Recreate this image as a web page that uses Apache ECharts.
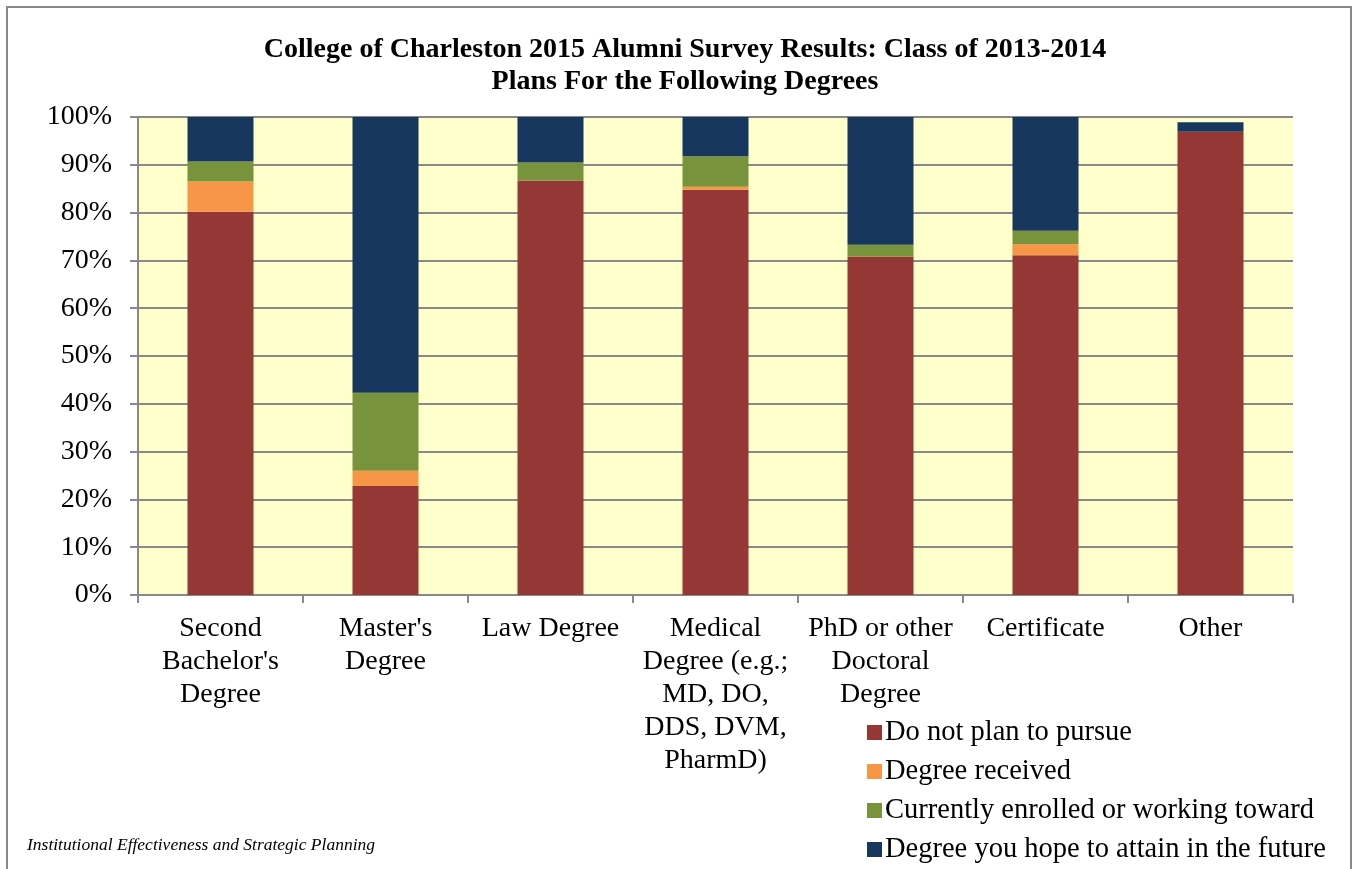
<!DOCTYPE html>
<html>
<head>
<meta charset="utf-8">
<script src="https://cdn.jsdelivr.net/npm/echarts@6/dist/echarts.min.js"></script>
<style>
  html, body { margin: 0; padding: 0; background: #fff; }
  #chart { width: 1353px; height: 869px; }
</style>
</head>
<body>
<div id="chart"></div>
<script>
const categories = [
  'Second\nBachelor\'s\nDegree',
  'Master\'s\nDegree',
  'Law Degree',
  'Medical\nDegree (e.g.;\nMD, DO,\nDDS, DVM,\nPharmD)',
  'PhD or other\nDoctoral\nDegree',
  'Certificate',
  'Other'
]
const doNotPlan = [80.2, 22.8, 86.7, 84.8, 70.8, 71.1, 96.9]
const degreeReceived = [6.3, 3.2, 0, 0.6, 0, 2.3, 0]
const currentlyEnrolled = [4.2, 16.3, 3.8, 6.4, 2.5, 2.8, 0]
const hopeFuture = [9.3, 57.7, 9.5, 8.2, 26.7, 23.8, 2.0]

const seriesInfo = [
  { name: 'Do not plan to pursue', color: '#953735', data: doNotPlan },
  { name: 'Degree received', color: '#F79646', data: degreeReceived },
  { name: 'Currently enrolled or working toward', color: '#77933C', data: currentlyEnrolled },
  { name: 'Degree you hope to attain in the future', color: '#17375E', data: hopeFuture }
]

const font = '"Liberation Serif", "DejaVu Serif", serif'

const chart = echarts.init(document.getElementById('chart'), null, { renderer: 'canvas' })
chart.setOption({
  animation: false,
  textStyle: { fontFamily: font },
  graphic: [
    {
      type: 'rect',
      shape: { x: 7, y: 7, width: 1344, height: 880 },
      style: { fill: 'none', stroke: '#898989', lineWidth: 2 }
    },
    {
      type: 'text',
      left: 27,
      top: 836,
      style: {
        text: 'Institutional Effectiveness and Strategic Planning',
        font: 'italic 17.5px ' + font,
        fill: '#000'
      }
    }
  ],
  title: {
    text: 'College of Charleston 2015 Alumni Survey Results: Class of 2013-2014\nPlans For the Following Degrees',
    left: 680,
    textAlign: 'center',
    top: 29,
    textStyle: {
      fontFamily: font,
      fontWeight: 'bold',
      fontSize: 28,
      lineHeight: 32,
      color: '#000'
    }
  },
  legend: {
    orient: 'vertical',
    left: 862,
    top: 713,
    itemWidth: 15,
    itemHeight: 15,
    itemGap: 10,
    icon: 'rect',
    selectedMode: false,
    textStyle: { fontFamily: font, fontSize: 28.5, lineHeight: 28, color: '#000', padding: [0, 0, 0, -2] },
    data: seriesInfo.map(s => s.name)
  },
  grid: {
    left: 138,
    right: 60,
    top: 117,
    bottom: 274,
    show: true,
    backgroundColor: '#FFFFCC',
    borderWidth: 0
  },
  xAxis: {
    type: 'category',
    data: categories,
    axisLine: { lineStyle: { color: '#898989', width: 2 } },
    axisTick: { show: true, length: 8, alignWithLabel: false, lineStyle: { color: '#898989', width: 2 } },
    axisLabel: {
      interval: 0,
      margin: 17,
      fontFamily: font,
      fontSize: 28,
      lineHeight: 33,
      color: '#000',
      verticalAlign: 'top'
    }
  },
  yAxis: {
    type: 'value',
    min: 0,
    max: 100,
    interval: 10,
    axisLine: { show: true, lineStyle: { color: '#898989', width: 2 } },
    axisTick: { show: true, length: 8, lineStyle: { color: '#898989', width: 2 } },
    splitLine: { lineStyle: { color: '#898989', width: 2 } },
    axisLabel: {
      margin: 26,
      fontFamily: font,
      fontSize: 28,
      color: '#000',
      formatter: v => v + '%'
    }
  },
  series: seriesInfo.map(s => ({
    name: s.name,
    type: 'bar',
    stack: 'total',
    barWidth: '40%',
    data: s.data,
    itemStyle: { color: s.color }
  }))
})
</script>
</body>
</html>
